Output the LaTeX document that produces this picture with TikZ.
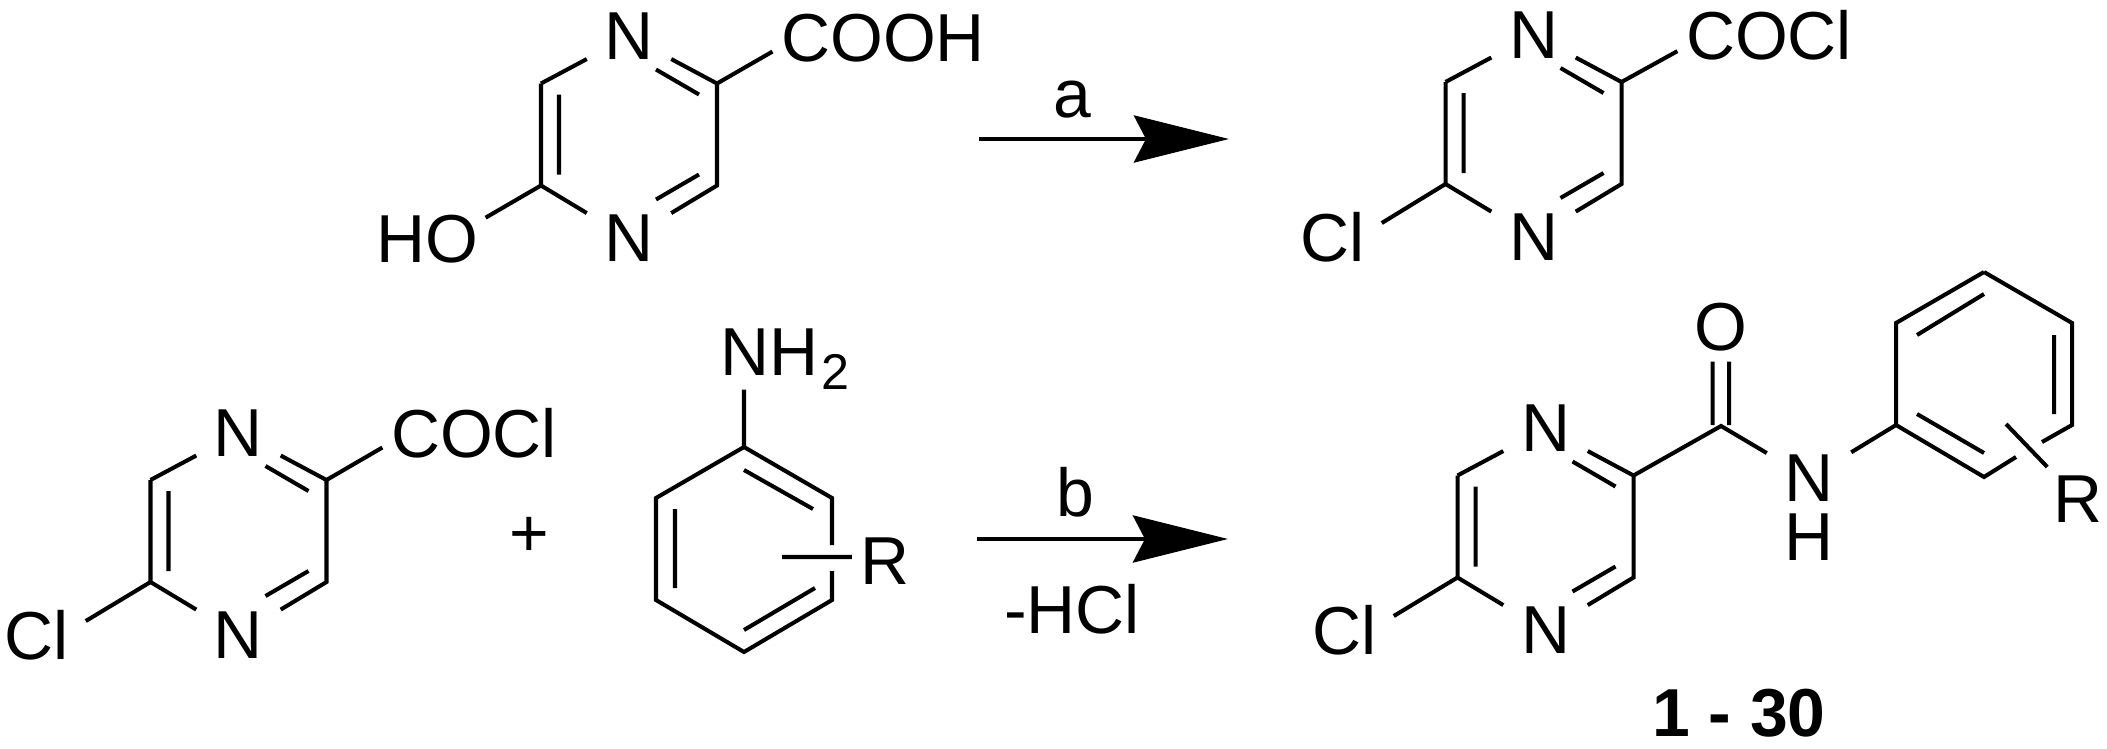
\documentclass[tikz,border=0pt]{standalone}
\usepackage{fontspec}
\setmainfont{Liberation Sans}
\usetikzlibrary{arrows.meta}

\tikzset{
        bond/.style={line width=1.15pt},
        rxn/.style={line width=1.3pt, -{Stealth[length=.95cm, width=.47cm, inset=.12cm]}},
        chem/.style={font=\fontsize{19.3}{23}\selectfont, inner xsep=.08cm, inner ysep=0pt},
        atom/.style={chem, inner xsep=.17cm, inner ysep=.02cm},
        rlabel/.style={chem, inner sep=.08cm},
        oxy/.style={chem, inner ysep=.1cm},
        pics/pyrazine/.style={code={
                \coordinate (c1) at (-88,-51);
                \coordinate (c2) at (88,-51);
                \coordinate (c3) at (88,51);
                \coordinate (c4) at (-88,51);
                \coordinate (i1) at (-70,-40);
                \coordinate (i2) at (-70,40);
                \coordinate (i3) at (70,-40);
                \coordinate (i4) at (27,-65);
                \coordinate (i5) at (70,40);
                \coordinate (i6) at (27,65);
                \node[atom] (n1) at (0,-98) {N};
                \node[atom] (n2) at (0,104) {N};
                \draw[bond] (c1) -- (n1) (n1) -- (c2) -- (c3) -- (n2) (n2) -- (c4) -- (c1)
                (i1) -- (i2) (i3) -- (i4) (i5) -- (i6);
        }}
}

\begin{document}
\begin{tikzpicture}[x=.01cm, y=-.01cm]
        \useasboundingbox (0,0) rectangle (2107,748);

        \pic (ra-) at (629,134.5) {pyrazine};
        \node[chem, inner xsep=.07cm] (ho) at (427,239) {HO};
        \node[chem] (cooh) at (883,38) {COOH};
        \draw[bond] (ra-c4) -- (ho.20) (ra-c2) -- (cooh.187);

        \coordinate (a1) at (979,139);
        \coordinate (a2) at (1229,139);
        \draw[rxn] (a1) -- node[chem, inner sep=0pt, above=.19cm, pos=.375] (la) {a} (a2);

        \pic (rb-) at (1533.5,133) {pyrazine};
        \node[chem, inner xsep=.16cm] (clb) at (1333,237) {Cl};
        \node[chem] (coclb) at (1769,35) {COCl};
        \draw[bond] (rb-c4) -- (clb.16) (rb-c2) -- (coclb.190);

        \pic (rc-) at (238.5,531) {pyrazine};
        \node[chem, inner xsep=.16cm] (clc) at (37,635) {Cl};
        \node[chem] (coclc) at (474,433) {COCl};
        \draw[bond] (rc-c4) -- (clc.16) (rc-c2) -- (coclc.189);

        \node[chem] (plus) at (529,537) {+};

        \coordinate (p1) at (744,447);
        \coordinate (p2) at (832,498);
        \coordinate (p3) at (832,600);
        \coordinate (p4) at (744,652);
        \coordinate (p5) at (656,600);
        \coordinate (p6) at (656,498);
        \coordinate (g1) at (832,545);
        \coordinate (g2) at (832,571);
        \coordinate (j1) at (744,470);
        \coordinate (j2) at (813,509);
        \coordinate (j3) at (675,509);
        \coordinate (j4) at (675,588);
        \coordinate (j5) at (744,630);
        \coordinate (j6) at (815,588);
        \coordinate (rs) at (782,557);
        \node[chem, anchor=base west, inner sep=0pt] (nh2) at (720,375) {NH\kern .03cm\raisebox{-.14cm}{\fontsize{14.3}{16}\selectfont 2}};
        \node[rlabel] (rd) at (885,561) {R};
        \draw[bond] (p1) -- (p1 |- nh2.south)
        (p1) -- (p2) -- (g1) (g2) -- (p3) -- (p4) -- (p5) -- (p6) -- (p1)
        (j1) -- (j2) (j3) -- (j4) (j5) -- (j6)
        (rs) -- (rs -| rd.west);

        \coordinate (b1) at (977,539);
        \coordinate (b2) at (1228,539);
        \draw[rxn] (b1) -- node[chem, inner sep=0pt, above=.2cm, pos=.39] (lb) {b}
        node[chem, inner sep=0pt, below=.43cm, pos=.378] (lhcl) {-HCl} (b2);

        \pic (re-) at (1545.5,526.5) {pyrazine};
        \node[chem, inner xsep=.16cm] (cle) at (1345,630) {Cl};
        \coordinate (co) at (1721,426);
        \coordinate (co1) at (1712.5,425);
        \coordinate (co2) at (1729,425);
        \node[oxy] (oe) at (1721,327) {O};
        \node[atom] (ne) at (1809,478) {N};
        \node[chem] (he) at (1809,537) {H};
        \coordinate (q1) at (1984,272);
        \coordinate (q2) at (2072,323);
        \coordinate (q3) at (2072,425);
        \coordinate (q4) at (1984,477);
        \coordinate (q5) at (1896,425);
        \coordinate (q6) at (1896,323);
        \coordinate (g3) at (2016,457);
        \coordinate (g4) at (2042,442);
        \coordinate (k1) at (1917,335);
        \coordinate (k2) at (1984,294);
        \coordinate (k3) at (2054,335);
        \coordinate (k4) at (2054,414);
        \coordinate (k5) at (1917,414);
        \coordinate (k6) at (1984,453);
        \coordinate (rt) at (2006,424);
        \node[rlabel] (rf) at (2078,499) {R};
        \draw[bond] (re-c4) -- (cle.16) (re-c2) -- (co) -- (ne) (ne) -- (q5)
        (co1) -- (co1 |- oe.south) (co2) -- (co2 |- oe.south)
        (q1) -- (q2) -- (q3) -- (g4) (g3) -- (q4) -- (q5) -- (q6) -- (q1)
        (k1) -- (k2) (k3) -- (k4) (k5) -- (k6)
        (rt) -- (rf);
        \node[chem, font=\fontsize{19.3}{23}\selectfont\bfseries] (num) at (1739,713) {1 - 30};
\end{tikzpicture}
\end{document}
